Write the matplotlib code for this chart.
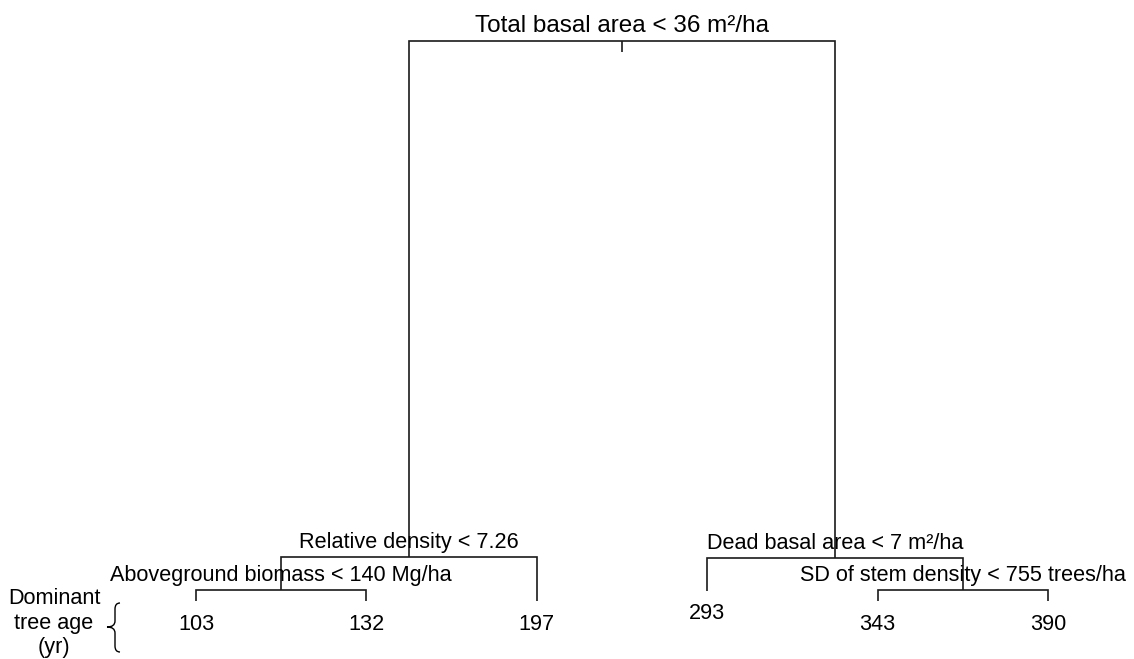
import matplotlib
matplotlib.use("Agg")
import matplotlib.pyplot as plt
from matplotlib.path import Path
from matplotlib.patches import PathPatch

plt.rcParams['font.family'] = ['Liberation Sans', 'DejaVu Sans']

# ---- tree data ----
leaf_labels = ["103", "132", "197", "293", "343", "390"]   # dominant tree age (yr)
leaf_pos = [1, 2, 3, 4, 5, 6]
leaf_height = [0.0, 0.0, 0.0, 0.018, 0.0, 0.0]

# internal nodes
split_labels = {
    "root": "Total basal area < 36 m\u00b2/ha",
    "reldens": "Relative density < 7.26",
    "biomass": "Aboveground biomass < 140 Mg/ha",
    "dead": "Dead basal area < 7 m\u00b2/ha",
    "sd": "SD of stem density < 755 trees/ha",
}
split_children = {
    "root": ("reldens", "dead"),
    "reldens": ("biomass", "L2"),
    "biomass": ("L0", "L1"),
    "dead": ("L3", "sd"),
    "sd": ("L4", "L5"),
}
split_height = {"root": 1.0, "reldens": 0.0786, "biomass": 0.0188,
                "dead": 0.0768, "sd": 0.0188}

W, H = 1134, 659
fig = plt.figure(figsize=(W / 100, H / 100), dpi=100)
ax = fig.add_axes([0, 0, 1, 1])
ax.set_xlim(1 - 196 / 170.4, 1 + (W - 196) / 170.4)
ax.set_ylim((601 - H) / 560, 601 / 560)
ax.axis("off")

LC = "#1a1a1a"
LW = 1.2
FS = 15.6
FS_ROOT = 17.5


def node_xy(name):
    if name.startswith("L"):
        i = int(name[1:])
        return leaf_pos[i], leaf_height[i]
    l, r = split_children[name]
    xl, _ = node_xy(l)
    xr, _ = node_xy(r)
    return (xl + xr) / 2, split_height[name]


for name, (l, r) in split_children.items():
    x, y = node_xy(name)
    xl, yl = node_xy(l)
    xr, yr = node_xy(r)
    ax.plot([xl, xl, xr, xr], [yl, y, y, yr], color=LC, lw=LW,
            solid_joinstyle="miter", solid_capstyle="butt")
    ax.annotate(split_labels[name], (x, y), xytext=(0, 6.5),
                textcoords="offset points", ha="center", va="baseline",
                fontsize=FS_ROOT if name == "root" else FS, color="black")

# root stub
rx, ry = node_xy("root")
ax.plot([rx, rx], [ry, ry - 0.02], color=LC, lw=LW, solid_capstyle="butt")

for i, lab in enumerate(leaf_labels):
    ax.annotate(lab, (leaf_pos[i], leaf_height[i]), xytext=(0, -9),
                textcoords="offset points", ha="center", va="top",
                fontsize=FS, color="black")

# left-side legend text and brace
fig.text(54 / W, 1 - 623 / H, "Dominant\ntree age\n(yr)", ha="center",
         va="center", fontsize=FS, linespacing=1.25)


def px(x, y):
    return (x / W, 1 - y / H)


verts = [px(120, 603), px(115, 603), px(115, 609), px(115, 621),
         px(115, 627), px(107, 627), px(115, 627), px(115, 633),
         px(115, 646), px(115, 652), px(120, 652)]
codes = [Path.MOVETO, Path.CURVE3, Path.CURVE3, Path.LINETO,
         Path.CURVE3, Path.CURVE3, Path.CURVE3, Path.CURVE3,
         Path.LINETO, Path.CURVE3, Path.CURVE3]
fig.patches.append(PathPatch(Path(verts, codes), transform=fig.transFigure,
                             fill=False, lw=1.0, color="black"))

fig.savefig("out.png", dpi=100)
